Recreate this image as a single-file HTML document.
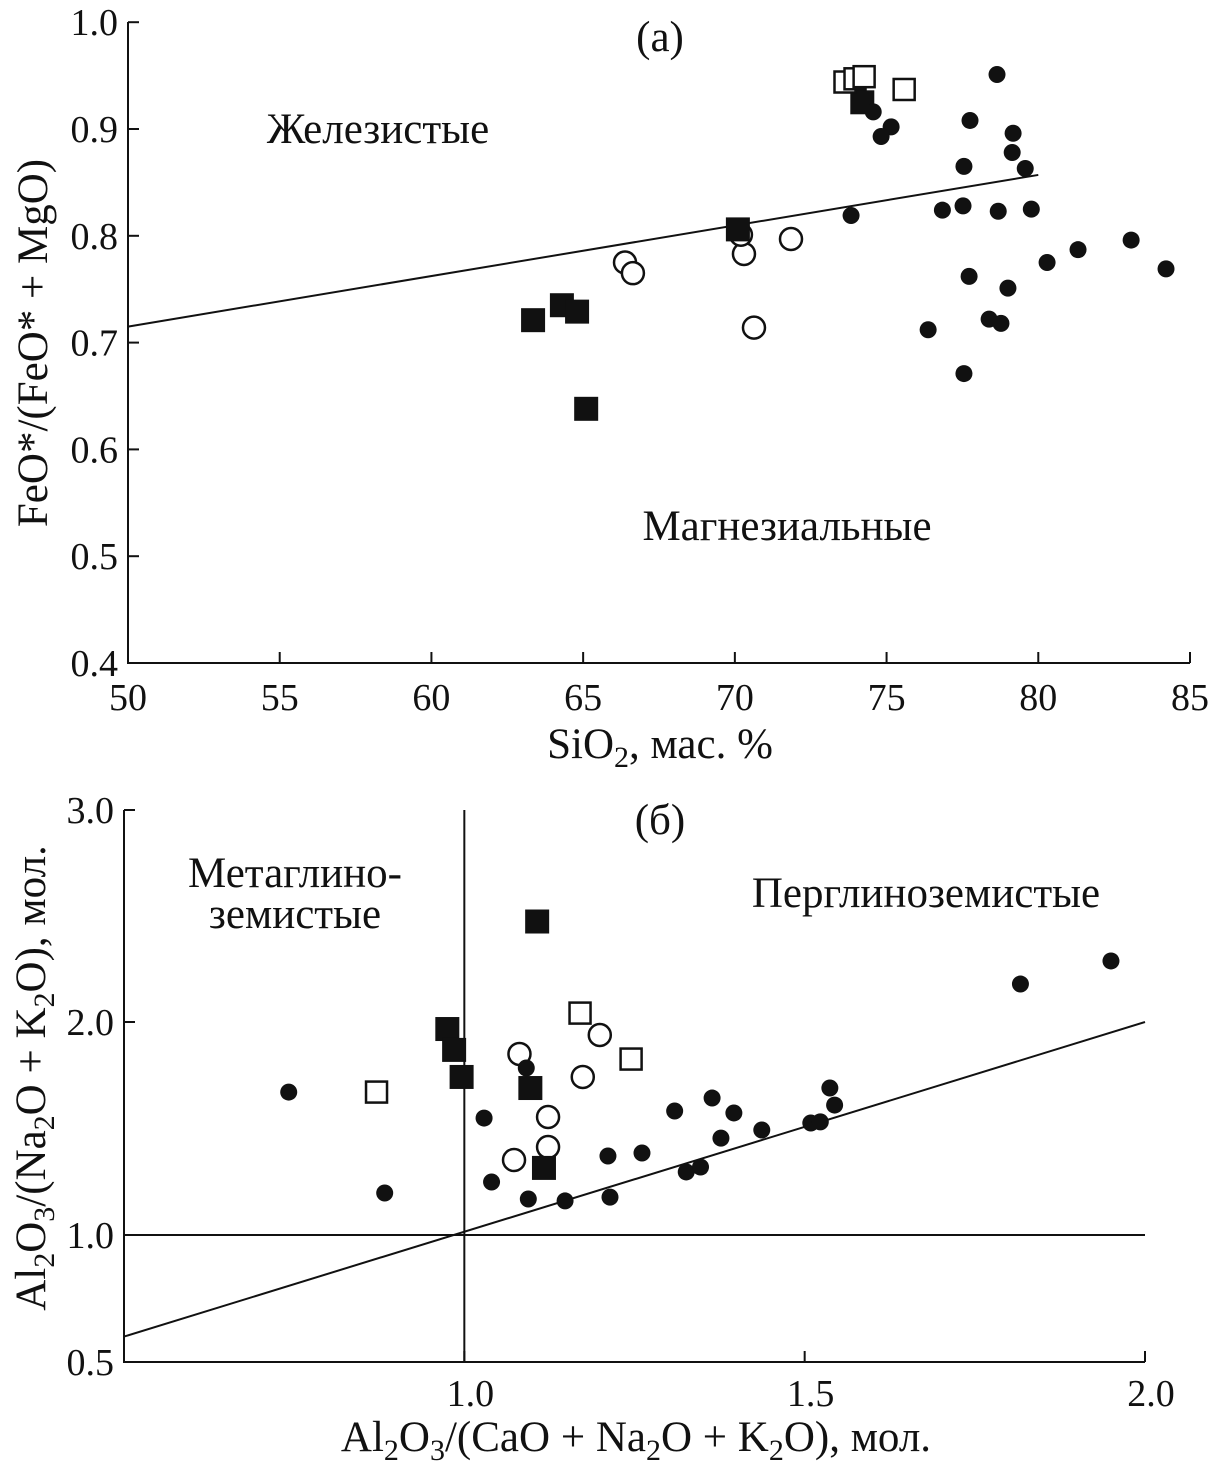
<!DOCTYPE html>
<html><head><meta charset="utf-8"><style>
body{margin:0;background:#fff;}
svg{display:block;font-family:"Liberation Serif",serif;}
</style></head><body>
<svg width="1214" height="1471" viewBox="0 0 1214 1471">
<g id="ga"></g>
<g id="gb"></g>
</svg>
<script>
// Panel (a) data
const aXTicks=[50,55,60,65,70,75,80,85];
const aYTicks=[0.4,0.5,0.6,0.7,0.8,0.9,1.0];
const aFilledCircX=[78.64,74.56,75.15,74.82,77.75,79.17,79.14,77.55,79.57,73.83,76.84,77.52,78.68,79.77,83.06,81.31,80.29,84.21,77.72,79.0,76.37,78.38,78.77,77.55];
const aFilledCircY=[0.951,0.916,0.902,0.893,0.908,0.896,0.878,0.865,0.863,0.819,0.824,0.828,0.823,0.825,0.796,0.787,0.775,0.769,0.762,0.751,0.712,0.722,0.718,0.671];
const aOpenCircX=[66.38,66.64,70.3,71.85,70.63,70.2];
const aOpenCircY=[0.775,0.765,0.783,0.797,0.714,0.801];
const aFilledSqX=[70.1,63.35,64.3,64.8,65.1,74.2];
const aFilledSqY=[0.806,0.721,0.735,0.729,0.638,0.925];
const aOpenSqX=[73.63,73.96,74.26,75.58];
const aOpenSqY=[0.944,0.947,0.949,0.937];
const aLineX=[50,80];
const aLineY=[0.715,0.857];
// Panel (b) data
const bXTicks=[1.0,1.5,2.0];
const bYTicks=[0.5,1.0,2.0,3.0];
const bFilledCircX=[0.742,0.883,1.091,1.029,1.040,1.094,1.148,1.214,1.211,1.261,1.309,1.364,1.396,1.377,1.437,1.326,1.347,1.509,1.523,1.537,1.544,1.817,1.950];
const bFilledCircY=[1.671,1.197,1.784,1.549,1.249,1.169,1.160,1.178,1.371,1.385,1.582,1.643,1.573,1.455,1.493,1.296,1.319,1.526,1.531,1.690,1.610,2.179,2.288];
const bOpenCircX=[1.081,1.199,1.174,1.123,1.123,1.073];
const bOpenCircY=[1.850,1.939,1.742,1.554,1.413,1.352];
const bFilledSqX=[1.107,0.975,0.985,0.996,1.097,1.117];
const bFilledSqY=[2.474,1.967,1.869,1.742,1.690,1.315];
const bOpenSqX=[0.871,1.170,1.245];
const bOpenSqY=[1.671,2.042,1.826];
const bDiagX=[0.5,2.0];
const bDiagY=[0.6,2.0];

const NS="http://www.w3.org/2000/svg";
function mk(parent,tag,attrs,text){const e=document.createElementNS(NS,tag);for(const k in attrs)e.setAttribute(k,attrs[k]);if(text!==undefined)e.textContent=text;parent.appendChild(e);return e;}

const axA=v=>128+(v-50)*(1190-128)/35;
const ayA=v=>663-(v-0.4)*1068;
const axB=v=>124+(v-0.5)*(1145-124)/1.5;
const ayB=v=>v<=1?1362-(v-0.5)*254:(v<=2?1235-(v-1)*213:1022-(v-2)*212);

function markers(g,xs,ys,fx,fy,type,name){
  for(let i=0;i<xs.length;i++){
    const x=fx(xs[i]),y=fy(ys[i]);let e;
    if(type==='fc')e=mk(g,'circle',{cx:x,cy:y,r:8.5,fill:'#111'});
    else if(type==='oc')e=mk(g,'circle',{cx:x,cy:y,r:11,fill:'#fff',stroke:'#111','stroke-width':2.5});
    else if(type==='fs')e=mk(g,'rect',{x:x-12,y:y-12,width:24,height:24,fill:'#111'});
    else e=mk(g,'rect',{x:x-10.5,y:y-10.5,width:21,height:21,fill:'#fff',stroke:'#111','stroke-width':2.5});
    
    
  }
}
const TF=38, LF=43;
const sub='font-size="30" dy="9"';

// Panel A
const ga=document.getElementById('ga');
let e;
e=mk(ga,'path',{d:'M128 22 V663 H1190',fill:'none',stroke:'#111','stroke-width':2});


aXTicks.forEach(t=>{const x=axA(t);
  e=mk(ga,'line',{x1:x,y1:663,x2:x,y2:652,stroke:'#111','stroke-width':2});
  
  
  e=mk(ga,'text',{x:x,y:710,'font-size':TF,'text-anchor':'middle',fill:'#111'},String(t));
  
  
});
aYTicks.forEach(t=>{const y=ayA(t);
  e=mk(ga,'line',{x1:128,y1:y,x2:139,y2:y,stroke:'#111','stroke-width':2});
  
  
  e=mk(ga,'text',{x:118,y:y+13,'font-size':TF,'text-anchor':'end',fill:'#111'},t.toFixed(1));
  
  
});
e=mk(ga,'line',{x1:axA(aLineX[0]),y1:ayA(aLineY[0]),x2:axA(aLineX[1]),y2:ayA(aLineY[1]),stroke:'#111','stroke-width':2});


markers(ga,aOpenCircX,aOpenCircY,axA,ayA,'oc','open-circle-point');
markers(ga,aFilledSqX,aFilledSqY,axA,ayA,'fs','filled-square-point');
markers(ga,aOpenSqX,aOpenSqY,axA,ayA,'os','open-square-point');
markers(ga,aFilledCircX,aFilledCircY,axA,ayA,'fc','filled-circle-point');
e=mk(ga,'text',{x:660,y:51,'font-size':LF,'text-anchor':'middle',fill:'#111'},'(a)');


e=mk(ga,'text',{x:378,y:143,'font-size':LF,'text-anchor':'middle',fill:'#111'},'Железистые');


e=mk(ga,'text',{x:787,y:540,'font-size':LF,'text-anchor':'middle',fill:'#111'},'Магнезиальные');


e=mk(ga,'text',{x:660,y:758,'font-size':LF,'text-anchor':'middle',fill:'#111'});
e.innerHTML='SiO<tspan '+sub+'>2</tspan><tspan dy="-9">, мас. %</tspan>';


e=mk(ga,'text',{x:0,y:0,'font-size':LF,'text-anchor':'middle',fill:'#111',transform:'translate(47,343) rotate(-90)'},'FeO*/(FeO* + MgO)');



// Panel B
const gb=document.getElementById('gb');
e=mk(gb,'path',{d:'M124 810 V1362 H1145',fill:'none',stroke:'#111','stroke-width':2});


bXTicks.forEach(t=>{const x=axB(t);
  e=mk(gb,'line',{x1:x,y1:1362,x2:x,y2:1351,stroke:'#111','stroke-width':2});
  
  
  e=mk(gb,'text',{x:x+6,y:1406,'font-size':TF,'text-anchor':'middle',fill:'#111'},t.toFixed(1));
  
  
});
bYTicks.forEach(t=>{const y=ayB(t);
  e=mk(gb,'line',{x1:124,y1:y,x2:135,y2:y,stroke:'#111','stroke-width':2});
  
  
  e=mk(gb,'text',{x:114,y:y+13,'font-size':TF,'text-anchor':'end',fill:'#111'},t.toFixed(1));
  
  
});
e=mk(gb,'line',{x1:axB(1),y1:810,x2:axB(1),y2:1362,stroke:'#111','stroke-width':2});


e=mk(gb,'line',{x1:124,y1:ayB(1),x2:1145,y2:ayB(1),stroke:'#111','stroke-width':2});


e=mk(gb,'line',{x1:axB(bDiagX[0]),y1:ayB(bDiagY[0]),x2:axB(bDiagX[1]),y2:ayB(bDiagY[1]),stroke:'#111','stroke-width':2});


markers(gb,bOpenCircX,bOpenCircY,axB,ayB,'oc','open-circle-point');
markers(gb,bFilledSqX,bFilledSqY,axB,ayB,'fs','filled-square-point');
markers(gb,bOpenSqX,bOpenSqY,axB,ayB,'os','open-square-point');
markers(gb,bFilledCircX,bFilledCircY,axB,ayB,'fc','filled-circle-point');
e=mk(gb,'text',{x:660,y:834,'font-size':LF,'text-anchor':'middle',fill:'#111'},'(б)');


e=mk(gb,'text',{x:295,y:887,'font-size':LF,'text-anchor':'middle',fill:'#111'},'Метаглино-');


e=mk(gb,'text',{x:295,y:928,'font-size':LF,'text-anchor':'middle',fill:'#111'},'земистые');


e=mk(gb,'text',{x:926,y:907,'font-size':LF,'text-anchor':'middle',fill:'#111'},'Перглиноземистые');


e=mk(gb,'text',{x:636,y:1451,'font-size':LF,'text-anchor':'middle',fill:'#111'});
e.innerHTML='Al<tspan '+sub+'>2</tspan><tspan dy="-9">O</tspan><tspan '+sub+'>3</tspan><tspan dy="-9">/(CaO + Na</tspan><tspan '+sub+'>2</tspan><tspan dy="-9">O + K</tspan><tspan '+sub+'>2</tspan><tspan dy="-9">O), мол.</tspan>';


e=mk(gb,'text',{x:0,y:0,'font-size':LF,'text-anchor':'middle',fill:'#111',transform:'translate(45,1078) rotate(-90)'});
e.innerHTML='Al<tspan '+sub+'>2</tspan><tspan dy="-9">O</tspan><tspan '+sub+'>3</tspan><tspan dy="-9">/(Na</tspan><tspan '+sub+'>2</tspan><tspan dy="-9">O + K</tspan><tspan '+sub+'>2</tspan><tspan dy="-9">O), мол.</tspan>';


</script>
</body></html>
